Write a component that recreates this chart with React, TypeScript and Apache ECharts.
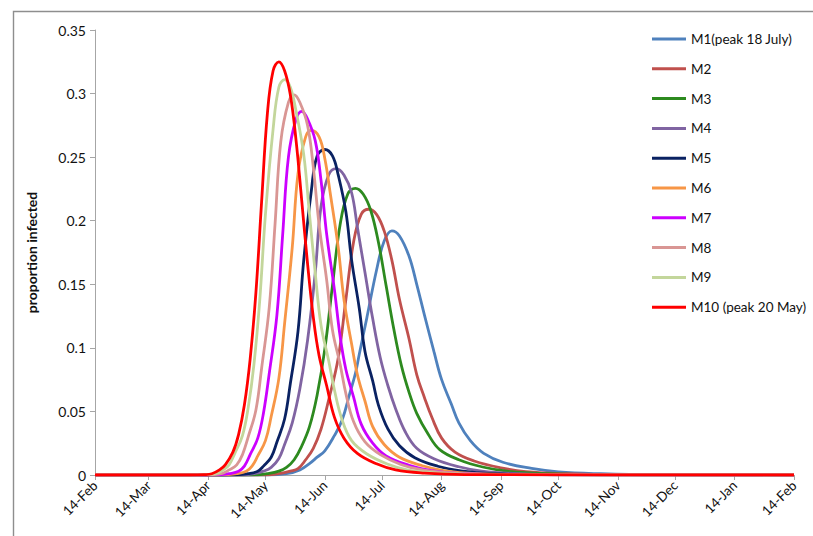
import React, { useEffect, useRef } from "react";
import * as echarts from "echarts";

// x axis: days counted from 14-Feb (day 0) to 14-Feb of next year (day 365)
const TICK_DAYS = [0, 28, 59, 89, 120, 150, 181, 212, 242, 273, 303, 334, 365];
const TICK_LABELS = ["14-Feb", "14-Mar", "14-Apr", "14-May", "14-Jun", "14-Jul", "14-Aug", "14-Sep", "14-Oct", "14-Nov", "14-Dec", "14-Jan", "14-Feb"];
const Y_MAX = 0.35;
const Y_STEP = 0.05;

const NAMES = ["M1(peak 18 July)", "M2", "M3", "M4", "M5", "M6", "M7", "M8", "M9", "M10 (peak 20 May)"];
const COLORS = ["#4F81BD", "#C0504D", "#2D8A1F", "#8064A2", "#0A2262", "#F79646", "#CC00FF", "#D99694", "#C3D69B", "#FF0000"];

// [day, proportion infected]
const M1: [number, number][] = [[0, 0], [90, 0], [100, 0.001], [107, 0.004], [112, 0.009], [116, 0.014], [120, 0.019], [125, 0.031], [129, 0.043], [133, 0.064], [136, 0.08], [138, 0.095], [142, 0.124], [147, 0.161], [151, 0.184], [155, 0.192], [159, 0.188], [164, 0.172], [168, 0.15], [172, 0.126], [177, 0.097], [181, 0.075], [186, 0.056], [190, 0.041], [196, 0.027], [203, 0.017], [213, 0.01], [228, 0.0052], [242, 0.0025], [264, 0.001], [293, 0.0002], [365, 0]];
const M2: [number, number][] = [[0, 0], [81, 0], [91, 0.0002], [96, 0.001], [102, 0.003], [106, 0.005], [110, 0.012], [114, 0.021], [118, 0.036], [122, 0.059], [127, 0.092], [131, 0.138], [135, 0.183], [139, 0.205], [143, 0.209], [147, 0.205], [151, 0.192], [155, 0.169], [159, 0.138], [164, 0.107], [168, 0.079], [172, 0.061], [176, 0.045], [181, 0.029], [188, 0.018], [198, 0.011], [212, 0.0056], [225, 0.0027], [246, 0.001], [273, 0.0002], [365, 0]];
const M3: [number, number][] = [[0, 0], [76, 0], [85, 0.0002], [90, 0.001], [96, 0.003], [100, 0.006], [104, 0.012], [108, 0.023], [112, 0.038], [116, 0.063], [120, 0.099], [124, 0.149], [128, 0.197], [132, 0.221], [136, 0.2255], [140, 0.221], [144, 0.208], [148, 0.183], [152, 0.149], [156, 0.115], [160, 0.086], [164, 0.065], [168, 0.0485], [174, 0.032], [180, 0.02], [190, 0.012], [203, 0.0061], [216, 0.0029], [237, 0.001], [263, 0.0002], [365, 0]];
const M4: [number, number][] = [[0, 0], [69, 0], [78, 0.0002], [83, 0.001], [88, 0.003], [92, 0.006], [96, 0.013], [99, 0.024], [103, 0.041], [107, 0.068], [111, 0.106], [115, 0.159], [118, 0.211], [122, 0.236], [126, 0.241], [130, 0.236], [134, 0.222], [137, 0.195], [141, 0.159], [145, 0.123], [149, 0.092], [153, 0.07], [157, 0.052], [162, 0.034], [168, 0.021], [177, 0.0128], [190, 0.0065], [202, 0.0031], [221, 0.001], [247, 0.0002], [365, 0]];
const M5: [number, number][] = [[0, 0], [67, 0], [75, 0.0003], [80, 0.001], [85, 0.003], [88, 0.007], [92, 0.014], [95, 0.026], [99, 0.044], [102, 0.072], [106, 0.113], [109, 0.169], [113, 0.224], [116, 0.251], [120, 0.256], [124, 0.251], [127, 0.236], [131, 0.207], [134, 0.169], [138, 0.131], [141, 0.097], [145, 0.074], [148, 0.055], [153, 0.036], [159, 0.023], [167, 0.0136], [179, 0.0069], [191, 0.0033], [208, 0.001], [232, 0.0003], [365, 0]];
const M6: [number, number][] = [[0, 0], [61, 0], [69, 0.0003], [74, 0.001], [79, 0.003], [82, 0.007], [85, 0.015], [89, 0.027], [92, 0.046], [96, 0.076], [99, 0.119], [103, 0.179], [106, 0.237], [110, 0.266], [113, 0.271], [117, 0.266], [120, 0.249], [123, 0.22], [127, 0.179], [130, 0.138], [134, 0.103], [137, 0.079], [141, 0.058], [145, 0.038], [151, 0.024], [159, 0.014], [171, 0.0073], [182, 0.0035], [199, 0.001], [222, 0.0003], [365, 0]];
const M7: [number, number][] = [[0, 0], [58, 0], [66, 0.0003], [70, 0.001], [75, 0.003], [78, 0.007], [81, 0.016], [85, 0.029], [88, 0.049], [91, 0.08], [95, 0.126], [98, 0.189], [101, 0.25], [105, 0.28], [108, 0.286], [111, 0.28], [115, 0.263], [118, 0.232], [121, 0.189], [125, 0.146], [128, 0.109], [131, 0.083], [135, 0.0615], [139, 0.04], [145, 0.025], [152, 0.015], [164, 0.0077], [175, 0.0037], [191, 0.001], [214, 0.0003], [365, 0]];
const M8: [number, number][] = [[0, 0], [54, 0], [61, 0.0003], [66, 0.001], [70, 0.004], [74, 0.008], [77, 0.016], [80, 0.03], [84, 0.051], [87, 0.084], [91, 0.132], [94, 0.197], [97, 0.262], [101, 0.293], [104, 0.299], [107, 0.293], [111, 0.275], [114, 0.242], [117, 0.197], [121, 0.153], [124, 0.114], [128, 0.087], [131, 0.064], [135, 0.042], [141, 0.026], [149, 0.016], [160, 0.0081], [171, 0.004], [188, 0.0015], [210, 0.0003], [365, 0]];
const M9: [number, number][] = [[0, 0], [51, 0], [58, 0.0003], [63, 0.001], [67, 0.004], [70, 0.008], [73, 0.017], [77, 0.031], [80, 0.053], [83, 0.087], [86, 0.137], [89, 0.205], [93, 0.272], [96, 0.305], [99, 0.311], [102, 0.305], [105, 0.286], [109, 0.252], [112, 0.205], [115, 0.159], [118, 0.118], [122, 0.09], [125, 0.067], [129, 0.0435], [134, 0.027], [142, 0.0165], [153, 0.0084], [163, 0.004], [179, 0.0015], [201, 0.0003], [365, 0]];
const M10: [number, number][] = [[0, 0], [50, 0], [57, 0.0003], [61, 0.001], [65, 0.004], [68, 0.008], [72, 0.018], [75, 0.032], [78, 0.055], [81, 0.091], [84, 0.143], [87, 0.215], [90, 0.284], [93, 0.318], [96, 0.325], [99, 0.318], [102, 0.299], [105, 0.263], [108, 0.215], [111, 0.166], [114, 0.124], [117, 0.094], [121, 0.07], [125, 0.0455], [130, 0.029], [137, 0.017], [147, 0.0088], [157, 0.004], [172, 0.0015], [193, 0.0003], [365, 0]];

const SERIES_DATA = [M1, M2, M3, M4, M5, M6, M7, M8, M9, M10];

const FONT = "Lato, 'Liberation Sans', sans-serif";

export default function App() {
  const ref = useRef<HTMLDivElement>(null);

  useEffect(() => {
    document.body.style.margin = "0";
    const el = ref.current;
    if (!el) return;
    const chart = echarts.init(el, undefined, { renderer: "svg" });
    const lastDay = TICK_DAYS[TICK_DAYS.length - 1];
    const categories = Array.from({ length: lastDay + 1 }, (_, i) => String(i));
    const isTick = (idx: number) => TICK_DAYS.indexOf(idx) >= 0;

    chart.setOption({
      animation: false,
      backgroundColor: "#ffffff",
      textStyle: { fontFamily: FONT },
      graphic: [
        {
          type: "rect",
          silent: true,
          z: -10,
          shape: { x: 13.5, y: 11.5, width: 900, height: 700 },
          style: { fill: "none", stroke: "#8e8e8e", lineWidth: 1.4 },
        },
      ],
      grid: { left: 95, right: 19, top: 30, bottom: 61, containLabel: false },
      legend: {
        orient: "vertical",
        left: 647,
        top: 26,
        icon: "rect",
        itemWidth: 34,
        itemHeight: 3,
        itemGap: 13.8,
        selectedMode: false,
        data: NAMES,
        textStyle: { fontFamily: FONT, fontSize: 13.5, color: "#111", lineHeight: 16 },
      },
      xAxis: {
        type: "category",
        data: categories,
        boundaryGap: false,
        axisLine: { lineStyle: { color: "#a6a6a6", width: 1 } },
        axisTick: { show: true, interval: (idx: number) => isTick(idx), length: 5, lineStyle: { color: "#a6a6a6" } },
        axisLabel: {
          interval: (idx: number) => isTick(idx),
          rotate: 45,
          fontSize: 13.5,
          color: "#111",
          margin: 8,
          fontFamily: FONT,
          formatter: (v: string) => {
            const k = TICK_DAYS.indexOf(Number(v));
            return k >= 0 ? TICK_LABELS[k] : "";
          },
        },
        splitLine: { show: false },
      },
      yAxis: {
        type: "value",
        min: 0,
        max: Y_MAX,
        interval: Y_STEP,
        name: "proportion infected",
        nameLocation: "middle",
        nameGap: 57,
        nameRotate: 90,
        nameTextStyle: { fontFamily: FONT, fontSize: 14, fontWeight: "bold", color: "#111" },
        axisLine: { show: true, lineStyle: { color: "#a6a6a6", width: 1 } },
        axisTick: { show: true, length: 5, lineStyle: { color: "#a6a6a6" } },
        axisLabel: {
          fontSize: 14,
          color: "#111",
          margin: 9,
          fontFamily: FONT,
          formatter: (v: number) => String(Math.round(v * 100) / 100),
        },
        splitLine: { show: false },
      },
      series: SERIES_DATA.map((d, i) => ({
        name: NAMES[i],
        type: "line",
        data: d,
        smooth: 0.4,
        symbol: "none",
        showSymbol: false,
        z: 2 + i,
        lineStyle: { color: COLORS[i], width: 2.8 },
        itemStyle: { color: COLORS[i] },
      })),
    });

    return () => {
      chart.dispose();
    };
  }, []);

  return <div ref={ref} style={{ width: 813, height: 536 }} />;
}
